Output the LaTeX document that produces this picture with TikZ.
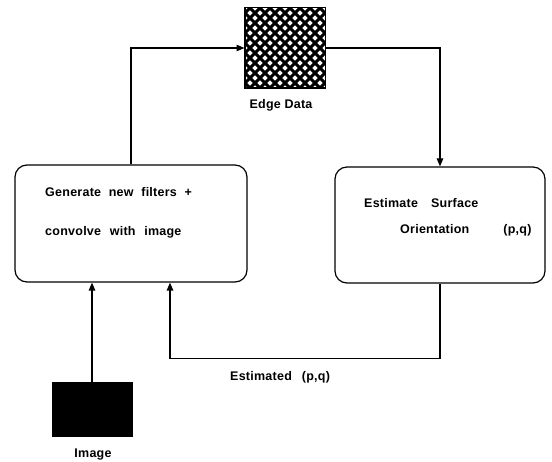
\documentclass[tikz,border=0pt]{standalone}
\usepackage{fontspec}
\setmainfont{Liberation Sans}[LetterSpace=2]
\usetikzlibrary{arrows.meta}
\begin{document}
\begin{tikzpicture}[x=1pt,y=-1pt,
  conn/.style={line width=1.2pt,-{Triangle[length=8pt,width=6.5pt]}},
  procbox/.style={draw,line width=1.2pt,rounded corners=12pt,inner sep=0},
  sqbox/.style={draw,line width=1pt,inner sep=0},
  lbl/.style={font=\fontsize{12.5}{14}\selectfont\bfseries,inner sep=0}]
\useasboundingbox[fill=white] (0,0) rectangle (552,462);
% process boxes
\node[procbox,minimum width=232pt,minimum height=117pt] (gen) at (131,223.5) {};
\node[procbox,minimum width=210pt,minimum height=116pt] (est) at (440,225) {};
% edge data square
\node[sqbox,fill=white,minimum width=80pt,minimum height=80pt] (edge) at (285,48) {};
\begin{scope}
  \clip (edge.south west) rectangle (edge.north east);
  \foreach \c in {-95,-85,...,195}{
    \draw[line width=3pt] (245+\c+20,-12) -- (245+\c-100,108);
  }
  \foreach \c in {-95,-85,...,95}{
    \draw[line width=3pt] (245+\c-20,-12) -- (245+\c+100,108);
  }
\end{scope}
\draw[line width=1.2pt] (edge.south west) rectangle (edge.north east);
% image square
\node[sqbox,fill=black,minimum width=80pt,minimum height=54pt] (img) at (92,410) {};
% texts
\node[lbl,anchor=base west] (t1) at (45,197) {Generate\hspace{7.7pt}new\hspace{7.7pt}filters\hspace{7.7pt}+};
\node[lbl,anchor=base west] (t2) at (45,236) {convolve\hspace{8.7pt}with\hspace{8.7pt}image};
\node[lbl,anchor=base west] (t3) at (364,208) {Estimate\hspace{13pt}Surface};
\node[lbl,anchor=base west] (t4) at (400,234) {Orientation\hspace{34pt}(p,q)};
\node[lbl,anchor=base] (edgelbl) at (281,109) {Edge Data};
\node[lbl,anchor=base] (imglbl) at (93,457) {Image};
\node[lbl,anchor=base west] (fblbl) at (230,381) {Estimated\hspace{10pt}(p,q)};
% connectors
\coordinate (fbin) at ([xshift=39pt]gen.south);
\draw[conn] (gen.north) |- (edge.west);
\draw[conn] (edge.east) -| (est.north);
\draw[conn] (img.north) -- (img.north |- gen.south);
\draw[conn] (est.south) -- ++(0,75) -| (fbin);
\end{tikzpicture}
\end{document}
